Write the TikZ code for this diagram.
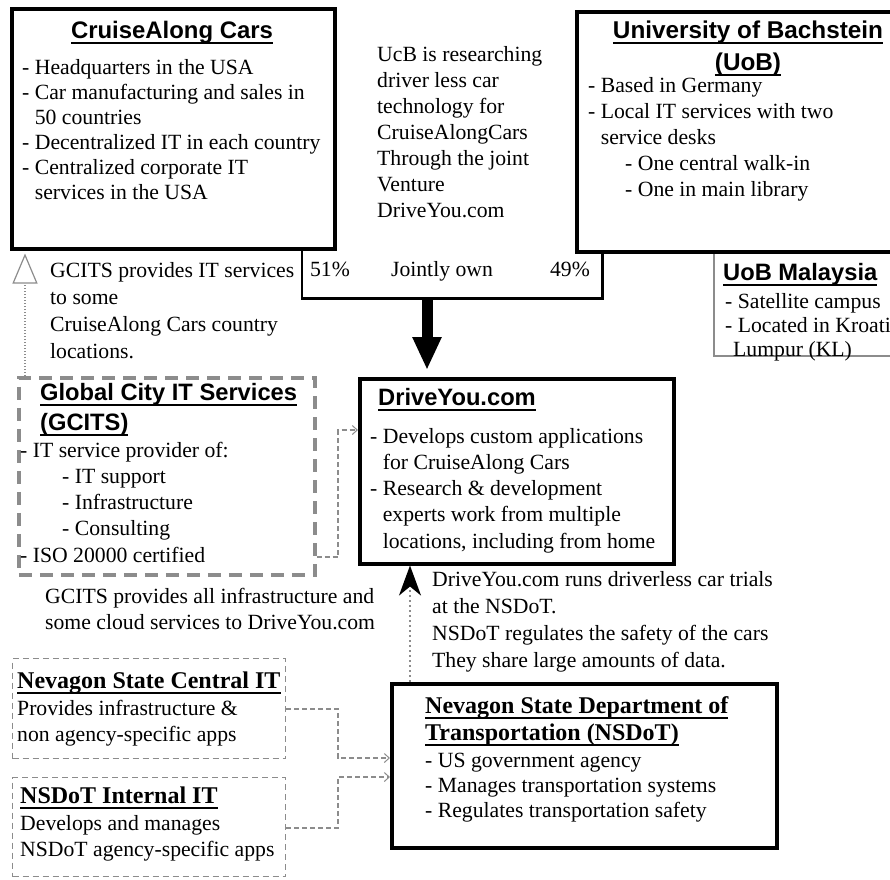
\documentclass[tikz,border=0pt]{standalone}
\usepackage{fontspec}
\setmainfont{Liberation Serif}
\newfontfamily\arialf{Liberation Sans}
\usetikzlibrary{arrows.meta}
\definecolor{gry}{HTML}{8C8C8C}
\newcommand\ulx[2][5.5pt]{\setbox0\hbox{#2}\rlap{\rule[-#1]{\wd0}{1.8pt}}\box0}
\newcommand\hi{\phantom{- }}
\tikzset{
  box/.style={draw, line width=3.5pt, fill=white, inner sep=0pt, anchor=north west},
  gbox/.style={draw=gry, line width=3.5pt, dash pattern=on 13pt off 8pt, inner sep=0pt, anchor=north west},
  tbox/.style={draw=gry, line width=1.4pt, dash pattern=on 6pt off 4pt, inner sep=0pt, anchor=north west},
  txt/.style={anchor=base west, align=left, inner sep=0pt, font=\fontsize{21.7}{26}\selectfont},
  ttl/.style={anchor=base west, align=left, inner sep=0pt, font=\arialf\bfseries\fontsize{23.7}{30}\selectfont},
  sttl/.style={anchor=base west, align=left, inner sep=0pt, font=\bfseries\fontsize{24}{27}\selectfont},
  conn/.style={draw=gry, line width=1.3pt, dash pattern=on 5pt off 3pt, -{Straight Barb[length=5pt,width=9pt,line width=1pt]}}
}
\begin{document}
\begin{tikzpicture}[x=1pt,y=-1pt]
\useasboundingbox (0,0) rectangle (890,879);
\clip (0,0) rectangle (890,879);
% jointly own U-shape
\node[inner sep=0pt, minimum width=300, minimum height=58, anchor=north west] (joint) at (302,240) {};
\draw[line width=2.5pt] (joint.north west) |- (joint.south east) -- (joint.north east);
% boxes
\node[draw=gry, line width=1.5pt, fill=white, inner sep=0pt, anchor=north west, minimum width=200, minimum height=105] (uobm) at (713,250) {};
\node[box, minimum width=323, minimum height=240] (cruise) at (10,7) {};
\node[box, minimum width=330, minimum height=240] (uob) at (575,10) {};
\node[box, minimum width=314, minimum height=185] (drive) at (358,377) {};
\node[gbox, minimum width=296, minimum height=197] (gcits) at (17,376) {};
\node[box, minimum width=385, minimum height=164] (nsdot) at (390,682) {};
\node[tbox, minimum width=273, minimum height=100] (central) at (12,658) {};
\node[tbox, minimum width=273, minimum height=99] (internal) at (12,777) {};
% helper coordinates
\coordinate (jx) at (427,0);
\coordinate (gx) at (25,0);
\coordinate (nx) at (410,0);
\coordinate (bx) at (338,0);
\coordinate (g1) at (0,557);
\coordinate (g2) at (0,430);
\coordinate (c1) at (0,709);
\coordinate (c2) at (0,758);
\coordinate (i1) at (0,828);
\coordinate (i2) at (0,777);
% connectors
\draw[line width=11pt, shorten >=7pt, -{Triangle[length=33pt,width=27pt]}] (joint.south -| jx) -- (drive.north -| jx);
\draw[gry, line width=2pt, dash pattern=on 1.5pt off 1.5pt, shorten >=3pt, -{Triangle[open,length=30pt,width=25pt,line width=1.2pt]}] (gcits.north -| gx) -- (cruise.south -| gx);
\draw[gry, line width=1.8pt, dash pattern=on 2pt off 3pt, -{Stealth[black,length=30pt,width=22pt,inset=9pt]}] (nsdot.north -| nx) -- (drive.south -| nx);
\draw[conn] (gcits.east |- g1) -| (bx |- g2) -- (drive.west |- g2);
\draw[conn] (central.east |- c1) -| (bx |- c2) -- (nsdot.west |- c2);
\draw[conn] (internal.east |- i1) -| (bx |- i2) -- (nsdot.west |- i2);
% texts (base anchor = baseline of the LAST line)
\node[ttl, anchor=base, font=\arialf\bfseries\fontsize{23.9}{26}\selectfont] (t1) at (172,38) {\ulx{CruiseAlong Cars}};
\node[txt, font=\fontsize{21.7}{25}\selectfont] (b1) at (22,199) {- Headquarters in the USA\\- Car manufacturing and sales in\\\hi 50 countries\\- Decentralized IT in each country\\- Centralized corporate IT\\\hi services in the USA};
% middle note
\node[txt] (mid) at (377,217) {UcB is researching\\driver less car\\technology for\\CruiseAlongCars\\Through the joint\\Venture\\DriveYou.com};
\node[txt, anchor=base] (p51) at (330,276) {51\%};
\node[txt, anchor=base] (jo) at (442,276) {Jointly own};
\node[txt, anchor=base] (p49) at (570,276) {49\%};
% UoB
\node[ttl, anchor=base, align=center, font=\arialf\bfseries\fontsize{24.3}{32}\selectfont] (t2) at (748,70) {\ulx{University of Bachstein}\\\ulx{(UoB)}};
\node[txt] (b2) at (588,196) {- Based in Germany\\- Local IT services with two\\\hi service desks\\\hspace*{37pt}- One central walk-in\\\hspace*{37pt}- One in main library};
% UoB Malaysia
\node[ttl] (t3) at (723,280) {\ulx{UoB Malaysia}};
\node[txt, font=\fontsize{21.7}{24}\selectfont] (b3) at (725,356) {- Satellite campus\\- Located in Kroatia\\\hspace*{8pt}Lumpur (KL)};
% GCITS note
\node[txt, font=\fontsize{21.7}{27}\selectfont] (n1) at (50,358) {GCITS provides IT services\\to some\\CruiseAlong Cars country\\locations.};
% GCITS
\node[ttl] (t4) at (40,430) {\ulx{Global City IT Services}\\\ulx{(GCITS)}};
\node[txt, font=\fontsize{21.7}{26.2}\selectfont] (b4) at (20,562) {- IT service provider of:\\\hspace*{42pt}- IT support\\\hspace*{42pt}- Infrastructure\\\hspace*{42pt}- Consulting\\- ISO 20000 certified};
\node[txt] (n2) at (45,629) {GCITS provides all infrastructure and\\some cloud services to DriveYou.com};
% DriveYou
\node[ttl] (t5) at (378,405) {\ulx{DriveYou.com}};
\node[txt, font=\fontsize{21.7}{26.2}\selectfont] (b5) at (370,548) {- Develops custom applications\\\hi for CruiseAlong Cars\\- Research \& development\\\hi experts work from multiple\\\hi locations, including from home};
% NSDoT note
\node[txt, font=\fontsize{21.7}{27}\selectfont] (n3) at (432,667) {DriveYou.com runs driverless car trials\\at the NSDoT.\\NSDoT regulates the safety of the cars\\They share large amounts of data.};
% NSDoT
\node[sttl] (t6) at (425,740) {\ulx[6pt]{Nevagon State Department of}\\\ulx[6pt]{Transportation (NSDoT)}};
\node[txt, font=\fontsize{21.7}{25}\selectfont] (b6) at (425,817) {- US government agency\\- Manages transportation systems\\- Regulates transportation safety};
% Central IT
\node[sttl] (t7) at (17,688) {\ulx[6pt]{Nevagon State Central IT}};
\node[txt] (b7) at (17,741) {Provides infrastructure \&\\non agency-specific apps};
% Internal IT
\node[sttl] (t8) at (20,803) {\ulx[6pt]{NSDoT Internal IT}};
\node[txt] (b8) at (20,856) {Develops and manages\\NSDoT agency-specific apps};
\end{tikzpicture}
\end{document}
